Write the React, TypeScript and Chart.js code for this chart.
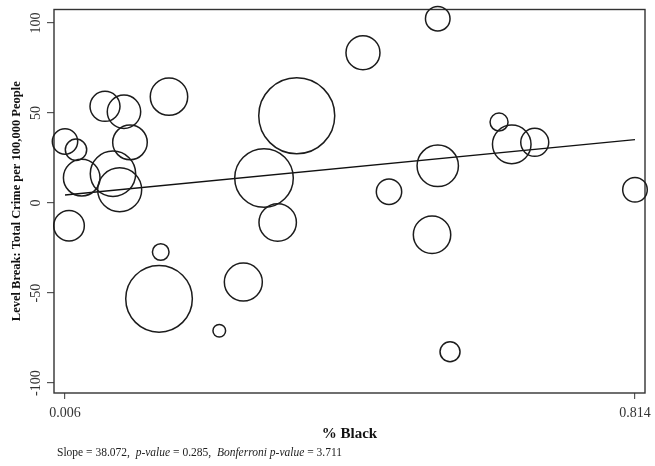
import React, { useEffect, useRef } from "react";
import { Chart, registerables } from "chart.js";

Chart.register(...registerables);

// Share of Black residents per unit
const pctBlack = [
  0.006, 0.0216, 0.0297, 0.0117, 0.0627, 0.0896, 0.0981, 0.074, 0.0835,
  0.1534, 0.1417, 0.1393, 0.2247, 0.2588, 0.2881, 0.3075, 0.3345, 0.4284,
  0.4653, 0.5344, 0.5344, 0.5263, 0.5518, 0.6213, 0.6393, 0.6719, 0.814,
];

// Level break in total crime per 100,000 people
const levelBreak = [
  34.2, 29.6, 14.1, -12.6, 53.7, 50.7, 33.7, 16.3, 7.4, 59.1, -27.2, -53.2,
  -70.9, -43.9, 13.9, -10.8, 48.5, 83.5, 6.3, 102.4, 20.7, -17.6, -82.6, 45.0,
  32.6, 33.7, 7.4,
];

// Analytic weights (marker area is proportional to weight)
const weights = [
  1.61, 1.14, 3.35, 2.34, 2.25, 2.79, 2.99, 5.15, 4.84, 3.5, 0.69, 11.09, 0.4,
  3.61, 8.58, 3.5, 14.44, 2.89, 1.61, 1.51, 4.28, 3.5, 1.0, 0.81, 3.72, 1.96,
  1.51,
];

const xTickValues = [0.006, 0.814];
const xTickLabels = ["0.006", "0.814"];
const yTickValues = [-100, -50, 0, 50, 100];
const yTickLabels = ["-100", "-50", "0", "50", "100"];

const slope = 38.072;
const intercept = 4.25;
const pValue = "0.285";
const bonferroniP = "3.711";

const xTitle = "% Black";
const yTitle = "Level Break: Total Crime per 100,000 People";

const SERIF = '"Liberation Serif", "Times New Roman", serif';

const textPlugin = {
  id: "stataText",
  beforeDatasetsDraw(chart: any) {
    const { ctx, chartArea } = chart;
    ctx.save();
    ctx.strokeStyle = "#333";
    ctx.lineWidth = 1.4;
    ctx.strokeRect(
      chartArea.left,
      chartArea.top,
      chartArea.right - chartArea.left,
      chartArea.bottom - chartArea.top
    );
    ctx.restore();
  },
  afterDraw(chart: any) {
    const { ctx, chartArea, scales } = chart;
    const xs = scales.x;
    const ys = scales.y;
    ctx.save();
    ctx.fillStyle = "#333";
    ctx.textBaseline = "middle";

    // y tick labels, rotated
    ctx.font = `14px ${SERIF}`;
    ctx.textAlign = "center";
    yTickValues.forEach((v, i) => {
      const py = ys.getPixelForValue(v);
      ctx.save();
      ctx.translate(36, py);
      ctx.rotate(-Math.PI / 2);
      ctx.fillText(yTickLabels[i], 0, 0);
      ctx.restore();
    });

    // x tick labels
    xTickValues.forEach((v, i) => {
      const px = xs.getPixelForValue(v);
      ctx.fillText(xTickLabels[i], px, 413);
    });

    // axis titles
    ctx.fillStyle = "#111";
    ctx.font = `bold 15px ${SERIF}`;
    ctx.fillText(xTitle, (chartArea.left + chartArea.right) / 2, 434);

    ctx.font = `bold 12.5px ${SERIF}`;
    ctx.save();
    ctx.translate(17, (chartArea.top + chartArea.bottom) / 2);
    ctx.rotate(-Math.PI / 2);
    ctx.fillText(yTitle, 0, 0);
    ctx.restore();

    // footnote with italic p-value labels
    const parts: [string, boolean][] = [
      [`Slope = ${slope.toFixed(3)},  `, false],
      ["p-value", true],
      [` = ${pValue},  `, false],
      ["Bonferroni p-value", true],
      [` = ${bonferroniP}`, false],
    ];
    ctx.textAlign = "left";
    ctx.fillStyle = "#222";
    let x = 57;
    parts.forEach(([t, it]) => {
      ctx.font = `${it ? "italic " : ""}11.5px ${SERIF}`;
      ctx.fillText(t, x, 453);
      x += ctx.measureText(t).width;
    });
    ctx.restore();
  },
};

export default function App() {
  const ref = useRef<HTMLCanvasElement | null>(null);

  useEffect(() => {
    if (!ref.current) return;
    const bubbles = pctBlack.map((x, i) => ({
      x,
      y: levelBreak[i],
      r: 10 * Math.sqrt(weights[i]),
    }));
    const xMin = xTickValues[0];
    const xMax = xTickValues[xTickValues.length - 1];
    const fit = [
      { x: xMin, y: intercept + slope * xMin },
      { x: xMax, y: intercept + slope * xMax },
    ];

    const chart = new Chart(ref.current, {
      type: "bubble",
      data: {
        datasets: [
          {
            type: "bubble",
            data: bubbles,
            backgroundColor: "rgba(0,0,0,0)",
            borderColor: "#1c1c1c",
            borderWidth: 1.5,
            clip: false,
          } as any,
          {
            type: "line",
            data: fit,
            borderColor: "#111",
            borderWidth: 1.4,
            pointRadius: 0,
            fill: false,
            clip: false,
          } as any,
        ],
      },
      options: {
        animation: false,
        responsive: false,
        events: [],
        layout: {
          autoPadding: false,
          padding: { left: 0, top: 9.5, right: 10, bottom: 0 },
        },
        plugins: {
          legend: { display: false },
          tooltip: { enabled: false },
        },
        scales: {
          x: {
            type: "linear",
            min: -0.0096,
            max: 0.8282,
            afterBuildTicks: (s: any) => {
              s.ticks = xTickValues.map((value) => ({ value }));
            },
            afterFit: (s: any) => {
              s.height = 73;
            },
            ticks: { display: false },
            border: { display: false },
            grid: {
              display: true,
              drawOnChartArea: false,
              drawTicks: true,
              tickLength: 6,
              color: "#555",
              lineWidth: 1.2,
            },
          },
          y: {
            type: "linear",
            min: -105.5,
            max: 107.5,
            afterBuildTicks: (s: any) => {
              s.ticks = yTickValues.map((value) => ({ value }));
            },
            afterFit: (s: any) => {
              s.width = 54;
            },
            ticks: { display: false },
            border: { display: false },
            grid: {
              display: true,
              drawOnChartArea: false,
              drawTicks: true,
              tickLength: 7,
              color: "#555",
              lineWidth: 1.2,
            },
          },
        },
      },
      plugins: [textPlugin],
    } as any);

    return () => chart.destroy();
  }, []);

  return (
    <div
      style={{
        position: "absolute",
        left: 0,
        top: 0,
        width: 655,
        height: 466,
        background: "#fff",
      }}
    >
      <canvas ref={ref} width={655} height={466} />
    </div>
  );
}
